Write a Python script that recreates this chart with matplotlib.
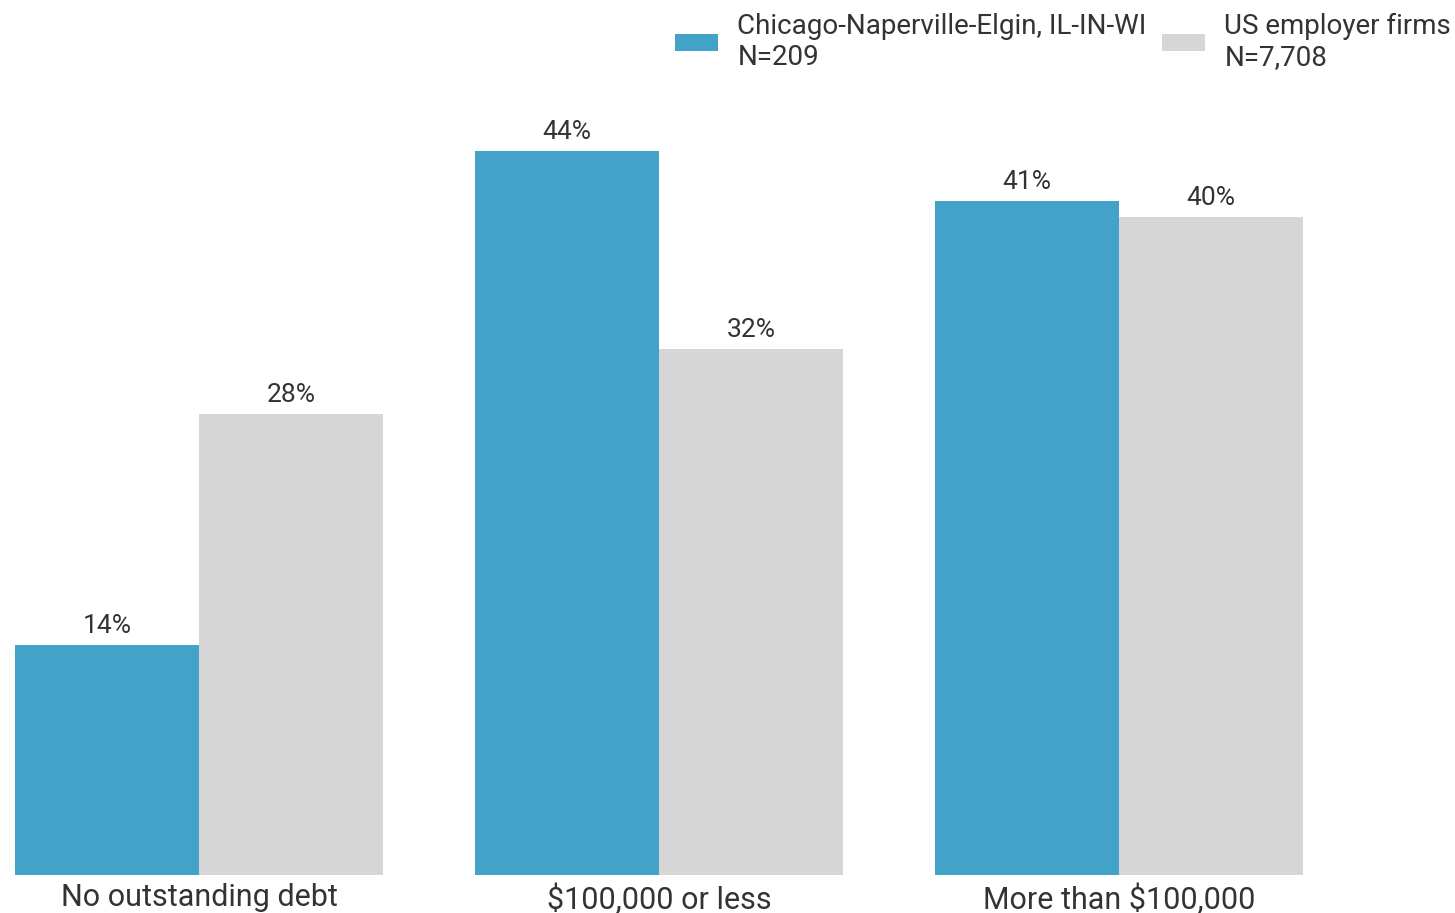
import matplotlib.pyplot as plt
import numpy as np

plt.rcParams['font.family'] = ['Roboto', 'DejaVu Sans']

categories = ['No outstanding debt', '$100,000 or less', 'More than $100,000']
chicago = [14, 44, 41]
us_firms = [28, 32, 40]
series_names = ['Chicago-Naperville-Elgin, IL-IN-WI\nN=209', 'US employer firms\nN=7,708']

blue = '#42a2c8'
grey = '#d6d6d6'
txt = '#333333'

fig = plt.figure(figsize=(14.55, 9.13), dpi=100)
ax = fig.add_axes([15 / 1455, 38 / 913, 1 - 15 / 1455, 775 / 913])

x = np.arange(len(categories))
w = 0.4
b1 = ax.bar(x - w / 2, chicago, w, color=blue, label=series_names[0])
b2 = ax.bar(x + w / 2, us_firms, w, color=grey, label=series_names[1])

for bars in (b1, b2):
    for b in bars:
        ax.annotate(f'{b.get_height():.0f}%', (b.get_x() + b.get_width() / 2, b.get_height()),
                    xytext=(0, 5), textcoords='offset points', ha='center', va='bottom',
                    fontsize=19, color=txt)

ax.set_xlim(-0.4, -0.4 + 1440 / 460)
ax.set_ylim(0, 775 / 16.45)
ax.set_xticks(x)
ax.set_xticklabels(categories, fontsize=22, color=txt)
ax.tick_params(axis='x', length=0, pad=6)
ax.set_yticks([])
for s in ax.spines.values():
    s.set_visible(False)

fig.legend(loc='upper right', bbox_to_anchor=(1.006, 1.0), ncol=2, frameon=False,
           fontsize=20, handlelength=1.55, handleheight=0.55, columnspacing=0.55,
           handletextpad=0.7, labelcolor=txt, borderaxespad=0.05,
           labelspacing=0.3)

fig.savefig('out.png', dpi=100)
